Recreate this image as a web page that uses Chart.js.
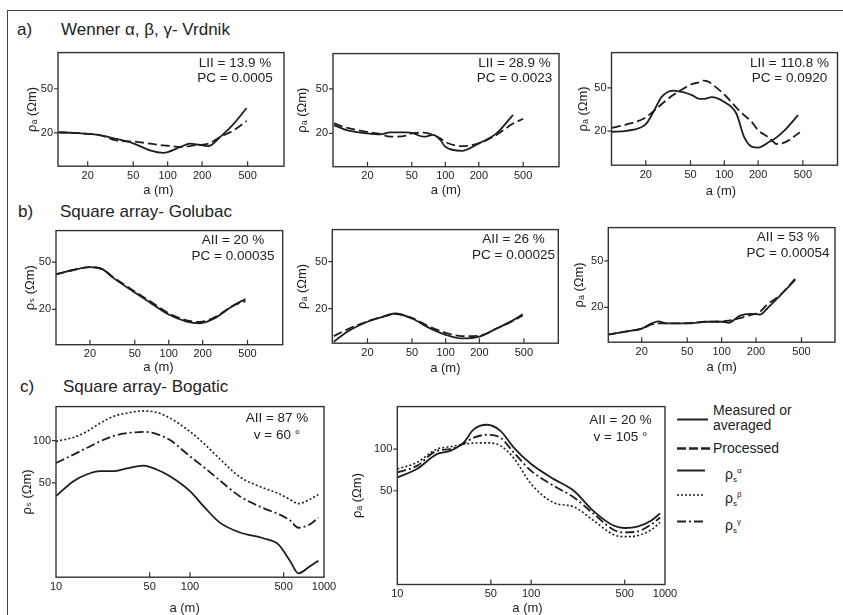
<!DOCTYPE html>
<html><head><meta charset="utf-8">
<script src="https://cdn.jsdelivr.net/npm/chart.js@4.4.1/dist/chart.umd.min.js"></script>
<style>
html,body{margin:0;padding:0;background:#fff}
body{width:843px;height:615px;position:relative;overflow:hidden;font-family:"Liberation Sans",Arial,"DejaVu Sans",sans-serif;color:#222}
.abs{position:absolute;white-space:nowrap}
.head{font-size:17px;line-height:20px}
.note{font-size:13.5px;text-align:center;width:150px}
.leg{font-size:14px;line-height:15px}
sub,sup{font-size:8px}
</style></head><body>
<div class="abs" style="left:7px;top:10px;width:840px;height:610px;border-left:1.3px solid #444;border-top:1.3px solid #444"></div>

<div class="abs head" style="left:17px;top:20px">a)</div>
<div class="abs head" style="left:61px;top:20px">Wenner α, β, γ- Vrdnik</div>
<div class="abs head" style="left:18px;top:202px">b)</div>
<div class="abs head" style="left:60px;top:202px">Square array- Golubac</div>
<div class="abs head" style="left:20px;top:377px">c)</div>
<div class="abs head" style="left:63px;top:377px">Square array- Bogatic</div>

<svg class="abs" style="left:0;top:0" width="843" height="615">
  <g stroke="#222" fill="none">
    <line x1="677" y1="419.5" x2="708" y2="419.5" stroke-width="2"/>
    <line x1="677" y1="448.5" x2="711" y2="448.5" stroke-width="2.6" stroke-dasharray="9,3"/>
    <line x1="677" y1="470.5" x2="705" y2="470.5" stroke-width="2"/>
    <line x1="677" y1="495" x2="705" y2="495" stroke-width="1.6" stroke-dasharray="2,2"/>
    <line x1="677" y1="521.5" x2="705" y2="521.5" stroke-width="2" stroke-dasharray="9,3,2,3"/>
  </g>
</svg>
<div class="abs leg" style="left:713px;top:403px">Measured or<br>averaged</div>
<div class="abs leg" style="left:713px;top:441px">Processed</div>
<div class="abs leg" style="left:725px;top:463px">ρ<sub>s</sub><sup>α</sup></div>
<div class="abs leg" style="left:725px;top:487px">ρ<sub>s</sub><sup>β</sup></div>
<div class="abs leg" style="left:725px;top:514px">ρ<sub>s</sub><sup>γ</sup></div>

<script>
// ---------- tick values ----------
const xTicksAB = [20, 50, 100, 200, 500];
const yTicksAB = [20, 50];
const xTicksC = [10, 50, 100, 500, 1000];
const yTicksC = [50, 100];

// ---------- a) Wenner α, β, γ - Vrdnik ----------
const a1X = [11, 15, 20, 26, 36, 50, 70, 92, 100, 129, 157, 180, 227, 287, 376, 490];
const a1Measured = [20.2, 20.0, 19.6, 19.0, 17.6, 16.1, 13.9, 13.2, 13.4, 14.9, 16.0, 15.7, 15.2, 18.3, 24.0, 33.5];
const a1Processed = [20.2, 20.0, 19.6, 19.0, 17.0, 16.7, 16.0, 15.4, 15.3, 14.9, 15.2, 15.5, 16.0, 18.3, 21.0, 25.6];

const a2X = [10, 13, 20, 26, 32, 45, 50, 64, 78, 90, 100, 140, 200, 288, 406, 500];
const a2Measured = [23.7, 21.4, 20.0, 19.6, 20.4, 20.4, 20.2, 18.7, 19.4, 17.5, 15.2, 14.0, 16.3, 20.0, 29.3, null];
const a2Processed = [24.6, 22.5, 20.6, 19.8, 18.7, 19.2, 20.0, 20.3, 19.4, 18.1, 16.8, 15.4, 16.3, 19.4, 24.5, 27.0];

const a3X = [10, 13.5, 20, 23, 27.6, 35, 43, 52, 60, 65, 72, 77, 100, 128, 150, 175, 200, 254, 292, 358, 454, 470];
const a3Measured = [19.7, 20.1, 23.2, 29, 41, 47.2, 45.6, 42.6, 39.5, 39.5, 40.5, 41, 37, 29, 17.7, 14.4, 14.1, 16, 17.5, 21.2, 28, null];
const a3Processed = [21.4, 23, 26.7, 30, 35.3, 43, 49, 54.4, 56.2, 58.2, 57, 54.4, 43.4, 32.9, 28, 24.3, 20.4, 17.2, 15.2, 16, 19, 19.5];

// ---------- b) Square array - Golubac ----------
const b1X = [10, 14.2, 20, 26, 32, 50, 68, 100, 144, 189, 248, 373, 480];
const b1Measured = [39.5, 42.9, 45.4, 43.4, 37, 27.7, 22.9, 18.1, 15.8, 15.3, 16.6, 21.5, 24.5];
const b1Processed = [39.5, 42.9, 45.4, 43.4, 37.5, 28.3, 23.5, 18.6, 16.2, 15.7, 16.9, 21.5, 23.5];

const b2X = [10, 13.1, 20, 25.9, 35.3, 50, 72.6, 100, 139, 200, 286, 403, 488];
const b2Measured = [10.5, 12.7, 15.5, 16.8, 18.2, 16.5, 13.6, 12.0, 11.2, 11.6, 13.6, 16.0, 17.9];
const b2Processed = [11.7, 13.3, 15.6, 16.8, 18.0, 16.7, 14.0, 12.5, 11.7, 11.8, 13.6, 15.8, 17.5];

const b3X = [10, 14.8, 20, 24.4, 27.9, 33, 50, 74, 100, 115, 145, 177, 217, 248, 325, 440];
const b3Measured = [11.7, 12.5, 13.2, 14.6, 15.2, 14.6, 14.6, 15.1, 15.1, 14.8, 17, 17.6, 17.4, 19.4, 25.2, 34.3];
const b3Processed = [11.7, 12.5, 13.2, 14.3, 14.6, 14.6, 14.7, 15.1, 15.2, 15.4, 16.2, 17.2, 18.4, 21, 25.5, 35];

// ---------- c) Square array - Bogatic ----------
const c1X = [10, 13.5, 16.9, 21.3, 26.8, 33.7, 44.9, 56.4, 70.9, 100, 126, 167, 236, 352, 456, 557, 643, 787, 908];
const c1Alpha = [40.2, 51.4, 57.3, 60.5, 60.5, 63.3, 66.4, 62.2, 55.7, 43.6, 34.1, 26, 22.1, 20.1, 18.2, 13.9, 11.3, 12.7, 13.9];
const c1Beta = [98.9, 105.5, 116, 133, 149, 157, 163, 159, 145, 116, 96, 74, 55, 46, 42, 38, 35.5, 38.1, 41.3];
const c1Gamma = [69.3, 79.5, 88.5, 98.9, 108, 113, 115.5, 111.5, 101, 77.3, 65, 52, 40, 33, 30, 27, 23.9, 25.3, 28.2];

const c2X = [10, 14, 19.7, 24.8, 31.3, 37.2, 46.8, 58.9, 74.2, 100, 147.6, 208, 294, 416, 500, 623, 784, 920];
const c2Alpha = [62.4, 71.8, 92, 97.2, 111.6, 139, 150, 135.5, 102.7, 78, 60.7, 50, 35.5, 27.9, 26.9, 27.5, 30.3, 34.3];
const c2Beta = [71.8, 80, 100, 104, 108.6, 110.5, 111, 106, 86, 56, 41, 38.3, 30.3, 24, 23.3, 23.7, 26, 29.5];
const c2Gamma = [67.8, 75.7, 97.2, 100, 109.8, 121, 127, 121, 94.5, 69.7, 54.3, 44.8, 34, 26, 25, 25.4, 28.4, 32];

// ---------- annotation texts ----------
const notesA = [["LII = 13.9 %", "PC = 0.0005"], ["LII = 28.9 %", "PC = 0.0023"], ["LII = 110.8 %", "PC = 0.0920"]];
const notesB = [["AII = 20 %", "PC = 0.00035"], ["AII = 26 %", "PC = 0.00025"], ["AII = 53 %", "PC = 0.00054"]];
const notesC = [["AII = 87 %", "v = 60 °"], ["AII = 20 %", "v = 105 °"]];

const FONT = '"Liberation Sans", Arial, "DejaVu Sans", sans-serif';
const INK = '#1e1e1e';
const STYLES = {
  solid: {borderDash: [], borderWidth: 1.8},
  dash: {borderDash: [9, 4], borderWidth: 1.8},
  dot: {borderDash: [2, 2.2], borderWidth: 1.6},
  dashdot: {borderDash: [9, 3, 2, 3], borderWidth: 1.8}
};

const panels = [
  {rect:[58,51,284,166], xr:[11,1040], yr:[10,106], xt:xTicksAB, yt:yTicksAB, yTitle:'ρₐ (Ωm)', yGap:25, xOff:24, xShift:7,
   series:[[a1X,a1Measured,'solid'],[a1X,a1Processed,'dash']], note:notesA[0], nc:[235,62,77]},
  {rect:[333,52.5,559,166.5], xr:[9.8,1050], yr:[10.1,103], xt:xTicksAB, yt:yTicksAB, yTitle:'ρₐ (Ωm)', yGap:30, xOff:23.5, xShift:0,
   series:[[a2X,a2Measured,'solid'],[a2X,a2Processed,'dash']], note:notesA[1], nc:[514.5,62.3,77.3]},
  {rect:[611.5,51.5,837.5,165.5], xr:[9.9,1018], yr:[9.7,105.5], xt:xTicksAB, yt:yTicksAB, yTitle:'ρₐ (Ωm)', yGap:27, xOff:26, xShift:2,
   series:[[a3X,a3Measured,'solid'],[a3X,a3Processed,'dash']], note:notesA[2], nc:[789.5,62,77]},
  {rect:[56,229.3,282.7,344.3], xr:[10,1026], yr:[10.1,92], xt:xTicksAB, yt:yTicksAB, yTitle:'ρₛ (Ωm)', yGap:24.5, xOff:22.5, xShift:6,
   series:[[b1X,b1Measured,'solid'],[b1X,b1Processed,'dash']], note:notesB[0], nc:[233,240,255.7]},
  {rect:[332.3,228.3,558.3,343.3], xr:[9.7,1015], yr:[10.2,93.3], xt:xTicksAB, yt:yTicksAB, yTitle:'ρₐ (Ωm)', yGap:29, xOff:25, xShift:0,
   series:[[b2X,b2Measured,'solid'],[b2X,b2Processed,'dash']], note:notesB[1], nc:[513.5,239,255]},
  {rect:[608.3,226.7,835,341.7], xr:[10.2,982], yr:[10.1,96], xt:xTicksAB, yt:yTicksAB, yTitle:'ρₐ (Ωm)', yGap:28.3, xOff:25, xShift:0,
   series:[[b3X,b3Measured,'solid'],[b3X,b3Processed,'dash']], note:notesB[2], nc:[788,237.3,253.3]},
  {rect:[56,405,324,576.7], xr:[10,1000], yr:[10.6,175], xt:xTicksC, yt:yTicksC, yTitle:'ρₛ (Ωm)', yGap:27.7, xOff:31, xShift:3,
   series:[[c1X,c1Alpha,'solid'],[c1X,c1Beta,'dot'],[c1X,c1Gamma,'dashdot']], note:notesC[0], nc:[277,418.3,435]},
  {rect:[397.3,405.7,665,584], xr:[10,1000], yr:[10.5,203], xt:xTicksC, yt:yTicksC, yTitle:'ρₐ (Ωm)', yGap:39, xOff:23.7, xShift:2,
   series:[[c2X,c2Alpha,'solid'],[c2X,c2Beta,'dot'],[c2X,c2Gamma,'dashdot']], note:notesC[1], nc:[620.5,419.3,436.7]}
];

const framePlugin = {
  id: 'frame',
  afterDraw(chart) {
    const {ctx, chartArea: a, scales: {x, y}} = chart;
    ctx.save();
    ctx.strokeStyle = '#333';
    ctx.lineWidth = 1.4;
    ctx.strokeRect(a.left, a.top, a.right - a.left, a.bottom - a.top);
    ctx.lineWidth = 1.2;
    ctx.beginPath();
    x.ticks.forEach(t => {
      const px = x.getPixelForValue(t.value);
      if (px > a.left + 2 && px < a.right - 2) { ctx.moveTo(px, a.bottom); ctx.lineTo(px, a.bottom - 5); }
    });
    y.ticks.forEach(t => {
      const py = y.getPixelForValue(t.value);
      ctx.moveTo(a.left - 4, py); ctx.lineTo(a.left, py);
    });
    ctx.stroke();
    ctx.restore();
  }
};

panels.forEach(p => {
  const [L, T, R, B] = p.rect;
  const PT = 10, PR = 18;
  const left = Math.floor(L - (p.yGap + 7.8));
  const YW = L - left;
  const top = Math.floor(T - PT);
  const padTop = T - top;
  const XH = p.xOff + 2 + 7.8;
  const W = Math.round(R - left + PR);
  const div = document.createElement('div');
  div.style.cssText = `position:absolute;left:${left}px;top:${top}px;width:${W}px;height:${Math.round(B - top + XH)}px`;
  const cv = document.createElement('canvas');
  div.appendChild(cv);
  document.body.appendChild(div);

  const datasets = p.series.map(([xs, ys, st]) => Object.assign({
    data: xs.map((xv, i) => ({x: xv, y: ys[i]})).filter(d => d.y !== null),
    borderColor: INK,
    fill: false,
    pointRadius: 0,
    cubicInterpolationMode: 'monotone',
    borderCapStyle: 'butt'
  }, STYLES[st]));

  new Chart(cv, {
    type: 'line',
    data: {datasets},
    plugins: [framePlugin],
    options: {
      responsive: true, maintainAspectRatio: false, animation: false, devicePixelRatio: 1,
      layout: {padding: {top: padTop, right: W - (R - left), left: 0, bottom: 0}},
      plugins: {legend: {display: false}, tooltip: {enabled: false}},
      scales: {
        x: {
          type: 'logarithmic', position: 'bottom', min: p.xr[0], max: p.xr[1],
          grid: {display: false, drawTicks: false}, border: {display: false},
          afterBuildTicks: s => { s.ticks = p.xt.map(v => ({value: v})); },
          afterFit: s => { s.height = XH; },
          ticks: {autoSkip: false, maxRotation: 0, padding: 3, color: '#222', font: {size: 11, family: FONT}, callback: v => String(v)},
          title: {display: true, text: 'a (m)' + ' '.repeat(p.xShift), color: '#222', font: {size: 13, family: FONT}, padding: {top: 0, bottom: 2}}
        },
        y: {
          type: 'logarithmic', position: 'left', min: p.yr[0], max: p.yr[1],
          grid: {display: false, drawTicks: false}, border: {display: false},
          afterBuildTicks: s => { s.ticks = p.yt.map(v => ({value: v})); },
          afterFit: s => { s.width = YW; },
          ticks: {autoSkip: false, padding: 5, color: '#222', font: {size: 11, family: FONT}, callback: v => String(v)},
          title: {display: true, text: p.yTitle, color: '#222', font: {size: 13, family: FONT}, padding: 0}
        }
      }
    }
  });

  const n = document.createElement('div');
  n.className = 'abs note';
  const lh = p.nc[2] - p.nc[1];
  n.style.cssText += `left:${p.nc[0] - 75}px;top:${p.nc[1] - lh / 2}px;line-height:${lh}px`;
  n.innerHTML = p.note[0] + '<br>' + p.note[1];
  document.body.appendChild(n);
});
</script>
</body></html>
